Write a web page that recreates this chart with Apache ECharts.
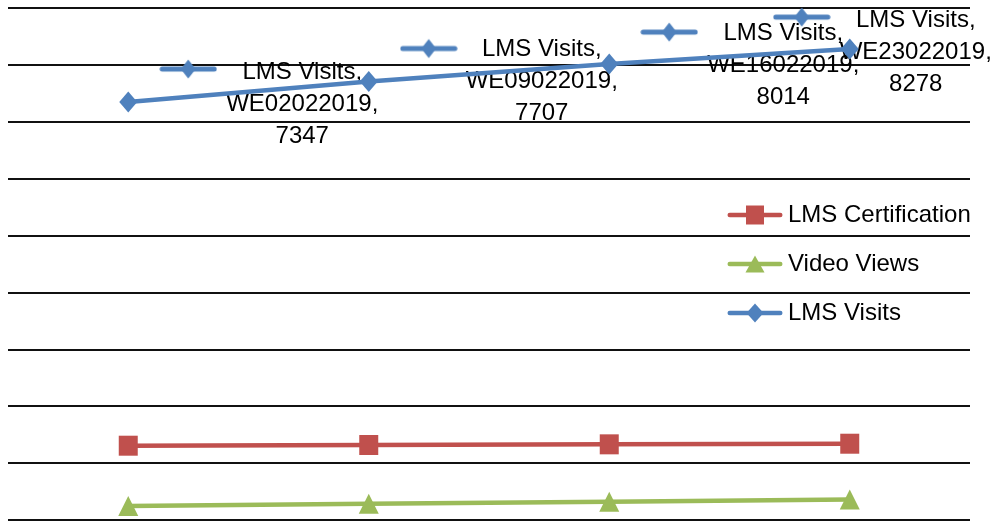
<!DOCTYPE html>
<html><head><meta charset="utf-8">
<script src="https://cdn.jsdelivr.net/npm/echarts@6/dist/echarts.min.js"></script>
<style>html,body{margin:0;padding:0;background:#fff}#c{width:990px;height:524px}</style>
</head><body><div id="c"></div>
<script>
const categories = ['WE02022019', 'WE09022019', 'WE16022019', 'WE23022019'];
const lmsVisits = [7347, 7707, 8014, 8278];
const lmsCertification = [1306, 1318, 1330, 1341];
const videoViews = [246, 285, 322, 362];
const yMin = 0, yMax = 9000, yStep = 1000;

// label placement (pixel offsets relative to each point)
const textOffsets = [[174, 2], [173, 0], [174, 1], [66, 3]];
const keyOffsets = [[60, -33], [60, -33], [60, -32], [-48, -32]];

const BLUE = '#4F81BD', RED = '#C0504D', GREEN = '#9BBB59';
const FONT = 'Liberation Sans';

function drawShape(g, shape, cx, cy, w, h) {
  g.beginPath();
  if (shape === 'diamond') {
    g.moveTo(cx, cy - h / 2); g.lineTo(cx + w / 2, cy); g.lineTo(cx, cy + h / 2); g.lineTo(cx - w / 2, cy);
  } else if (shape === 'rect') {
    g.rect(cx - w / 2, cy - h / 2, w, h);
  } else if (shape === 'triangle') {
    g.moveTo(cx, cy - h / 2); g.lineTo(cx + w / 2, cy + h / 2); g.lineTo(cx - w / 2, cy + h / 2);
  }
  g.closePath(); g.fill();
}
function makeIcon(color, shape, W, H, lw, sw, sh) {
  const c = document.createElement('canvas');
  c.width = W; c.height = H;
  const g = c.getContext('2d');
  g.strokeStyle = color; g.lineWidth = lw; g.lineCap = 'round';
  g.beginPath(); g.moveTo(lw / 2 + 0.5, H / 2); g.lineTo(W - lw / 2 - 0.5, H / 2); g.stroke();
  g.fillStyle = color;
  drawShape(g, shape, W / 2, H / 2, sw, sh);
  return c;
}
const keyImg = makeIcon(BLUE, 'diamond', 58, 22, 5, 15, 19);
const legendIcons = {
  'LMS Certification': makeIcon(RED, 'rect', 56, 20, 4.5, 18, 19).toDataURL(),
  'Video Views': makeIcon(GREEN, 'triangle', 56, 20, 4.5, 19, 17).toDataURL(),
  'LMS Visits': makeIcon(BLUE, 'diamond', 56, 20, 4.5, 17, 19).toDataURL()
};

const chart = echarts.init(document.getElementById('c'), null, {renderer: 'canvas'});
chart.setOption({
  animation: false,
  backgroundColor: '#fff',
  grid: {left: 8, right: 20, top: 8, bottom: 4, containLabel: false},
  xAxis: {
    type: 'category', data: categories, boundaryGap: true,
    axisLine: {show: false}, axisTick: {show: false}, axisLabel: {show: false}
  },
  yAxis: {
    type: 'value', min: yMin, max: yMax, interval: yStep,
    axisLine: {show: false}, axisTick: {show: false}, axisLabel: {show: false},
    splitLine: {lineStyle: {color: '#111', width: 2}}
  },
  legend: {
    orient: 'vertical', left: 727, top: 203, padding: 0,
    itemWidth: 56, itemHeight: 20, itemGap: 25,
    data: ['LMS Certification', 'Video Views', 'LMS Visits'].map(n => ({name: n, icon: 'image://' + legendIcons[n]})),
    textStyle: {fontFamily: FONT, fontSize: 24, color: '#000', lineHeight: 24}
  },
  series: [
    {
      name: 'visitsText', type: 'line', z: 1, data: lmsVisits.map((v, i) => ({value: v, label: {offset: textOffsets[i]}})),
      symbol: 'circle', symbolSize: 1, itemStyle: {color: 'transparent'}, lineStyle: {width: 0, opacity: 0},
      silent: true,
      label: {
        show: true, position: 'inside', align: 'center', verticalAlign: 'middle',
        fontFamily: FONT, fontSize: 24, lineHeight: 32, color: '#000', textBorderWidth: 0,
        formatter: p => 'LMS Visits,\n' + p.name + ',\n' + p.value
      }
    },
    {
      name: 'visitsKey', type: 'line', z: 1, data: lmsVisits.map((v, i) => ({value: v, label: {offset: keyOffsets[i]}})),
      symbol: 'circle', symbolSize: 1, itemStyle: {color: 'transparent'}, lineStyle: {width: 0, opacity: 0},
      silent: true,
      label: {
        show: true, position: 'inside', align: 'center', verticalAlign: 'middle',
        formatter: '{k|}',
        rich: {k: {width: 58, height: 22, backgroundColor: {image: keyImg}}}
      }
    },
    {
      name: 'LMS Certification', type: 'line', z: 3, data: lmsCertification,
      symbol: 'rect', symbolSize: [19, 20], color: RED,
      itemStyle: {color: RED}, lineStyle: {color: RED, width: 4.5}
    },
    {
      name: 'Video Views', type: 'line', z: 3, data: videoViews,
      symbol: 'triangle', symbolSize: [20, 20], color: GREEN,
      itemStyle: {color: GREEN}, lineStyle: {color: GREEN, width: 4.5}
    },
    {
      name: 'LMS Visits', type: 'line', z: 3, data: lmsVisits,
      symbol: 'diamond', symbolSize: [18, 21], color: BLUE,
      itemStyle: {color: BLUE}, lineStyle: {color: BLUE, width: 4.5}
    }
  ]
});
</script>
</body></html>
